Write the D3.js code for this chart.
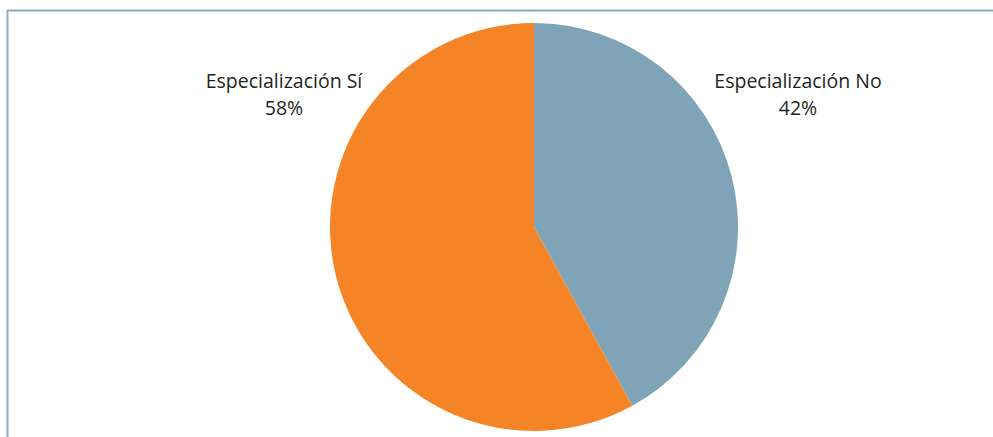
<!DOCTYPE html>
<html>
<head>
<meta charset="utf-8">
<script src="https://cdn.jsdelivr.net/npm/d3@7"></script>
<style>
  body { margin: 0; background: #fff; }
  svg { display: block; }
</style>
</head>
<body>
<svg width="993" height="437"></svg>
<script>
// data
var categories = ["Especialización No", "Especialización Sí"];
var values = [42, 58];
var colors = ["#7fa3b7", "#f58426"];

// label anchor points (layout only)
var labelPos = [798, 284];

const svg = d3.select("svg"),
      cx = 534, cy = 227, radius = 204;

// frame lines (top and left)
svg.append("line")
    .attr("x1", 7).attr("y1", 10.5).attr("x2", 993).attr("y2", 10.5)
    .attr("stroke", "#8eaabd").attr("stroke-width", 2);
svg.append("line")
    .attr("x1", 7.5).attr("y1", 10).attr("x2", 7.5).attr("y2", 437)
    .attr("stroke", "#8eaabd").attr("stroke-width", 2);

const pie = d3.pie().sort(null).value(d => d);
const arc = d3.arc().innerRadius(0).outerRadius(radius);

const g = svg.append("g").attr("transform", `translate(${cx},${cy})`);

g.selectAll("path")
  .data(pie(values))
  .enter().append("path")
    .attr("d", arc)
    .attr("fill", (d, i) => colors[i]);

// labels: name on one line, percent below
const lab = svg.selectAll(".lab")
  .data(categories)
  .enter().append("g")
    .attr("class", "lab")
    .attr("transform", (d, i) => `translate(${labelPos[i]},0)`);

lab.append("text")
    .attr("y", 88)
    .attr("text-anchor", "middle")
    .style("font-family", "'Open Sans', sans-serif")
    .style("font-size", "19.5px")
    .style("fill", "#231f20")
    .text(d => d);
lab.append("text")
    .attr("y", 114.5)
    .attr("text-anchor", "middle")
    .style("font-family", "'Open Sans', sans-serif")
    .style("font-size", "19.5px")
    .style("fill", "#231f20")
    .text((d, i) => values[i] + "%");
</script>
</body>
</html>
